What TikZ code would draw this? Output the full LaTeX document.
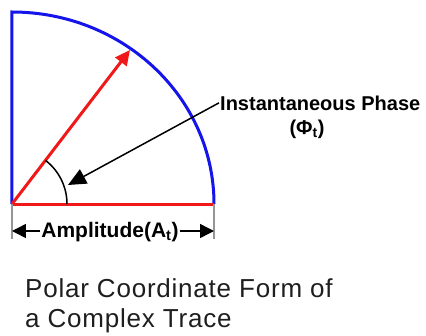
\documentclass[tikz,border=0pt]{standalone}
\usepackage{fontspec}
\setmainfont{Liberation Sans}
\usepackage{tikz}
\usetikzlibrary{positioning, arrows.meta, calc}
\definecolor{traceblue}{RGB}{20,20,235}
\definecolor{ampred}{RGB}{240,24,24}
\definecolor{tickgrey}{RGB}{150,150,150}
\definecolor{titleink}{RGB}{30,30,30}

\begin{document}
\begin{tikzpicture}[
    x=1pt, y=1pt,
    trace/.style={draw=traceblue, line width=3pt},
    amp/.style={draw=ampred, line width=3pt},
    vec/.style={amp, -{Triangle[length=15pt, width=14pt]}},
    ptr/.style={draw=black, line width=1.5pt, -{Triangle[length=18pt, width=16pt]}},
    dim/.style={draw=black, line width=1.5pt, -{Triangle[length=14pt, width=14pt]}},
    tick/.style={draw=tickgrey, line width=1.5pt},
    lbl/.style={inner sep=1pt, font=\fontsize{20}{24}\selectfont\bfseries},
    title/.style={inner sep=0pt, text=titleink,
                  font=\fontsize{26}{30}\selectfont\addfontfeature{LetterSpace=3}}
  ]
  \useasboundingbox (-12,-131) rectangle (414,204);
  \coordinate (O) at (0,0);
  \coordinate (top) at (0,192);
  \coordinate (right) at (202,0);
  \coordinate (tip) at (118,154);
  % quarter of the trace
  \draw[trace] (O) -- (top) arc[start angle=90, end angle=0, x radius=202, y radius=192];
  \draw[amp] (O) -- (right);
  \draw[vec] (O) -- (tip);
  \draw[line width=1.5pt] (0:55) arc[start angle=0, end angle=52.5, radius=55];
  % phase label
  \node[lbl, anchor=base west] (phase) at (207,94) {Instantaneous Phase};
  \node[lbl, anchor=base] (phi) at (295,70) {(Φ\textsubscript{t})};
  \coordinate (angle) at (56,19);
  \draw[ptr] (phase.west) -- (angle);
  % amplitude dimension
  \draw[tick] (O) -- (0,-35);
  \draw[tick] (right) -- (202,-35);
  \node[lbl, anchor=base, font=\fontsize{21}{25}\selectfont\bfseries] (ampl) at (98,-33) {Amplitude(A\textsubscript{t})};
  \coordinate (ampL) at (0,-27);
  \coordinate (ampR) at (202,-27);
  \draw[dim] (ampL -| ampl.west) -- (ampL);
  \draw[dim] (ampR -| ampl.east) -- (ampR);
  % caption
  \node[title, anchor=base west] (title1) at (13,-93) {Polar Coordinate Form of};
  \node[title, anchor=base west] (title2) at ([yshift=-30pt]title1.base west) {a Complex Trace};
\end{tikzpicture}
\end{document}
